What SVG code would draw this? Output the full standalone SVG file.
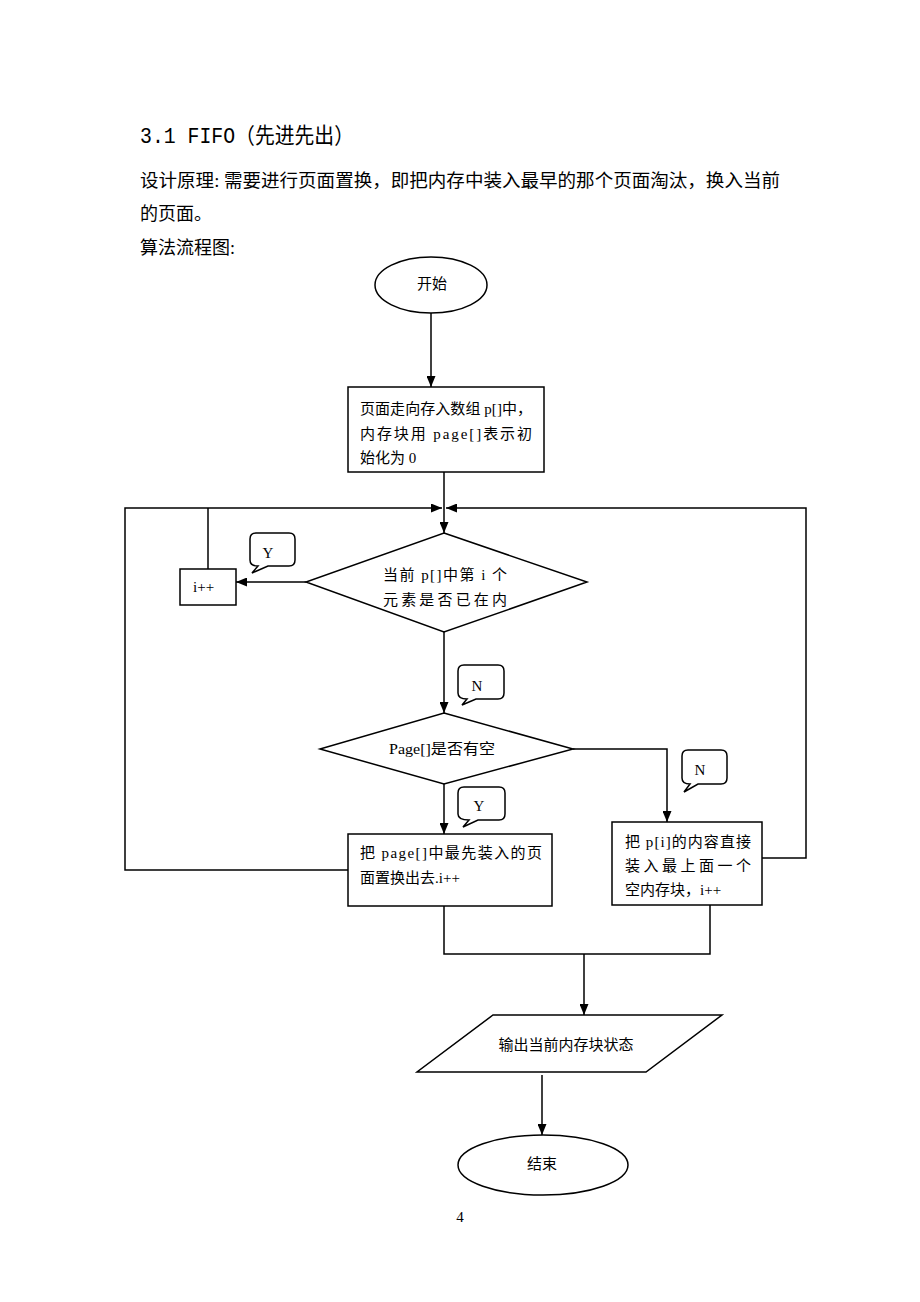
<svg xmlns="http://www.w3.org/2000/svg" width="920" height="1302" viewBox="0 0 920 1302">
<style>
.s{fill:none;stroke:#000;stroke-width:1.5}
.b{fill:#fff;stroke:#000;stroke-width:1.5}
.t{font-family:"Liberation Serif","Noto Sans CJK SC",serif;font-size:15px;fill:#000}
.c{text-anchor:middle}
.h{font-family:"Liberation Mono","Noto Sans CJK SC",monospace;font-size:22px;fill:#000}
.p{font-family:"Liberation Serif","Noto Sans CJK SC",serif;font-size:18px;fill:#000}
</style>
<defs>
<marker id="a" markerUnits="userSpaceOnUse" markerWidth="11" markerHeight="9" refX="11" refY="4.5" orient="auto">
<path d="M0,0 L11,4.5 L0,9 z" fill="#000"/>
</marker>
</defs>
<rect width="920" height="1302" fill="#fff"/>
<g id="header">
<text class="h" x="140" y="143" textLength="214" lengthAdjust="spacingAndGlyphs">3.1 FIFO（先进先出）</text>
<text class="p" x="140" y="187" textLength="640" lengthAdjust="spacingAndGlyphs">设计原理: 需要进行页面置换，即把内存中装入最早的那个页面淘汰，换入当前</text>
<text class="p" x="140" y="220">的页面。</text>
<text class="p" x="140" y="254">算法流程图:</text>
</g>
<g id="connectors">
<line class="s" x1="431" y1="313" x2="431" y2="387" marker-end="url(#a)"/>
<line class="s" x1="444" y1="472" x2="444" y2="533" marker-end="url(#a)"/>
<polyline class="s" points="348,870 125,870 125,508 442,508" marker-end="url(#a)"/>
<line class="s" x1="208" y1="508" x2="208" y2="569"/>
<polyline class="s" points="762,858 806,858 806,508 446,508" marker-end="url(#a)"/>
<line class="s" x1="306" y1="582" x2="236" y2="582" marker-end="url(#a)"/>
<line class="s" x1="444" y1="632" x2="444" y2="713" marker-end="url(#a)"/>
<polyline class="s" points="573,749 667,749 667,822" marker-end="url(#a)"/>
<line class="s" x1="444" y1="784" x2="444" y2="834" marker-end="url(#a)"/>
<polyline class="s" points="444,906 444,954 710,954 710,905"/>
<line class="s" x1="584" y1="954" x2="584" y2="1015" marker-end="url(#a)"/>
<line class="s" x1="542" y1="1075" x2="542" y2="1135" marker-end="url(#a)"/>
</g>
<g id="start">
<ellipse class="b" cx="431" cy="285" rx="56" ry="28"/>
<text class="t c" x="432" y="289">开始</text>
</g>
<g id="init">
<rect class="b" x="348" y="387" width="196" height="85"/>
<text class="t" x="360" y="414" textLength="172" lengthAdjust="spacing">页面走向存入数组 p[]中，</text>
<text class="t" x="360" y="439" textLength="172" lengthAdjust="spacing">内存块用 page[]表示初</text>
<text class="t" x="360" y="463">始化为 0</text>
</g>
<g id="dec1">
<polygon class="b" points="444,533 587,582 444,632 306,582"/>
<text class="t" x="383" y="580" textLength="124" lengthAdjust="spacing">当前 p[]中第 i 个</text>
<text class="t" x="383" y="605" textLength="124" lengthAdjust="spacing">元素是否已在内</text>
</g>
<g id="inc">
<rect class="b" x="180" y="569" width="56" height="36"/>
<text class="t" x="193" y="592">i++</text>
</g>
<g id="cy1">
<path class="b" d="M256,533 H289 Q295,533 295,539 V560 Q295,566 289,566 H268 L252,573 L258,566 Q250,566 250,560 V539 Q250,533 256,533 Z"/>
<text class="t c" x="268" y="558">Y</text>
</g>
<g id="cn1">
<path class="b" d="M464,665 H498 Q504,665 504,671 V693 Q504,699 498,699 H476 L462,705 L467,699 Q458,699 458,693 V671 Q458,665 464,665 Z"/>
<text class="t c" x="477" y="691">N</text>
</g>
<g id="dec2">
<polygon class="b" points="444,713 573,749 444,784 320,749"/>
<text class="t c" x="442" y="754" textLength="106" lengthAdjust="spacingAndGlyphs">Page[]是否有空</text>
</g>
<g id="cn2">
<path class="b" d="M688,750 H721 Q727,750 727,756 V778 Q727,784 721,784 H698 L684,792 L690,784 Q682,784 682,778 V756 Q682,750 688,750 Z"/>
<text class="t c" x="700" y="775">N</text>
</g>
<g id="cy2">
<path class="b" d="M464,787 H499 Q505,787 505,793 V814 Q505,820 499,820 H478 L463,827 L469,820 Q458,820 458,814 V793 Q458,787 464,787 Z"/>
<text class="t c" x="479" y="811">Y</text>
</g>
<g id="replace">
<rect class="b" x="348" y="834" width="204" height="72"/>
<text class="t" x="360" y="858" textLength="182" lengthAdjust="spacing">把 page[]中最先装入的页</text>
<text class="t" x="360" y="883">面置换出去.i++</text>
</g>
<g id="load">
<rect class="b" x="612" y="822" width="150" height="83"/>
<text class="t" x="625" y="847" textLength="126" lengthAdjust="spacing">把 p[i]的内容直接</text>
<text class="t" x="625" y="871" textLength="126" lengthAdjust="spacing">装入最上面一个</text>
<text class="t" x="625" y="895">空内存块，i++</text>
</g>
<g id="output">
<polygon class="b" points="493,1015 722,1015 646,1072 417,1072"/>
<text class="t c" x="566" y="1050">输出当前内存块状态</text>
</g>
<g id="end">
<ellipse class="b" cx="543" cy="1165" rx="85" ry="30"/>
<text class="t c" x="542" y="1169">结束</text>
</g>
<g id="footer">
<text class="t c" x="460" y="1222">4</text>
</g>
</svg>
